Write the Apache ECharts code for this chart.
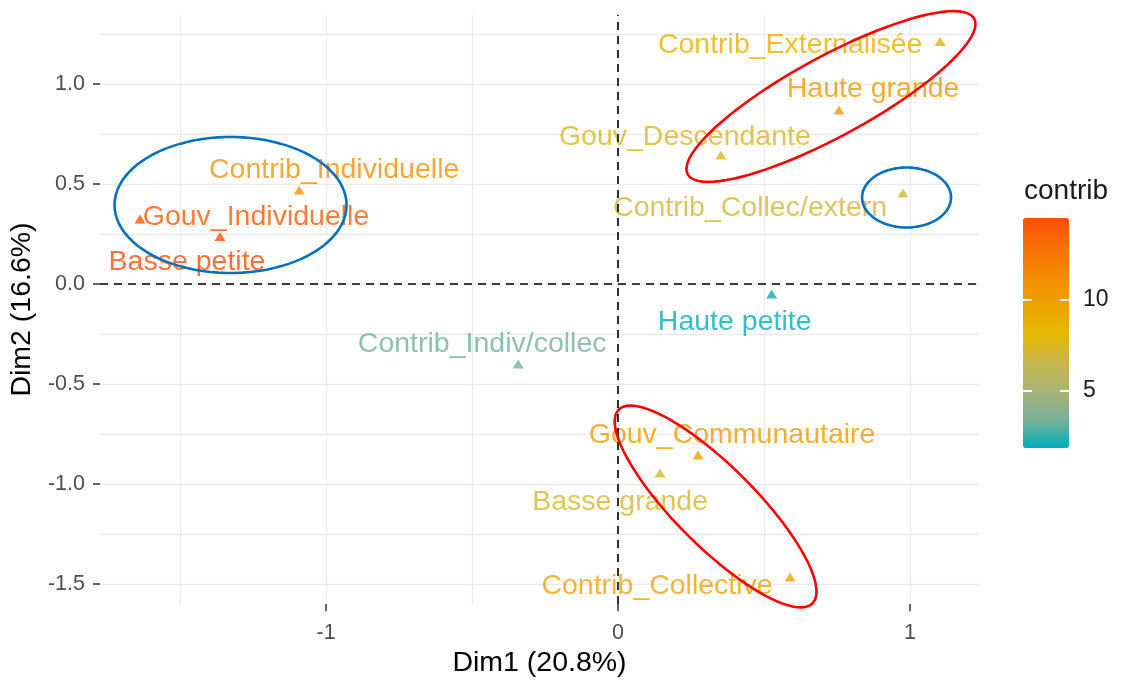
<!DOCTYPE html>
<html>
<head>
<meta charset="utf-8">
<title>ACM - contrib</title>
<script src="https://cdn.jsdelivr.net/npm/echarts@6.0.0/dist/echarts.min.js"></script>
<style>
  html, body { margin: 0; padding: 0; background: #fff; }
  #chartMca { width: 1122px; height: 686px; }
</style>
</head>
<body>
<div id="chartMca"></div>
<script>
    // modalités : coordonnées sur Dim1 / Dim2 et contribution
    var catNames = ["Contrib_Externalisée", "Haute grande", "Gouv_Descendante", "Contrib_Collec/extern",
                    "Haute petite", "Contrib_Individuelle", "Gouv_Individuelle", "Basse petite",
                    "Contrib_Indiv/collec", "Gouv_Communautaire", "Basse grande", "Contrib_Collective"];
    var dim1    = [1.103, 0.757, 0.352, 0.976, 0.526, -1.092, -1.637, -1.363, -0.342, 0.274, 0.144, 0.589];
    var dim2    = [1.212, 0.870, 0.645, 0.455, -0.050, 0.470, 0.325, 0.237, -0.400, -0.855, -0.945, -1.465];
    var contrib = [8.9, 10.4, 7.5, 7.1, 1.85, 10.9, 13.9, 14.49, 3.3, 10.2, 7.3, 9.5];

    var xMajorTicks = [-1, 0, 1];
    var xMinorTicks = [-1.5, -0.5, 0.5];
    var yMajorTicks = [-1.5, -1, -0.5, 0, 0.5, 1];
    var yMinorTicks = [-1.25, -0.75, -0.25, 0.25, 0.75, 1.25];
    var contribTicks = [5, 10];
    var contribRange = [1.85, 14.49];

    // place des étiquettes (comme ggrepel), en px par rapport au point
    var labelShift = {
      "Contrib_Externalisée": [-150, 4],
      "Haute grande": [34, -21],
      "Gouv_Descendante": [-36, -18],
      "Contrib_Collec/extern": [-153, 15],
      "Haute petite": [-37, 28],
      "Contrib_Individuelle": [35, -20],
      "Gouv_Individuelle": [116, -2],
      "Basse petite": [-33, 26],
      "Contrib_Indiv/collec": [-36, -20],
      "Gouv_Communautaire": [34, -20],
      "Basse grande": [-40, 29],
      "Contrib_Collective": [-133, 9]
    };

    // ellipses ajoutées à la main sur la figure
    var circles = [
      {x: 0.729, y: 0.9375, rx: 163, ry: 40, angle: -28.5, color: "#FF0000"},
      {x: 0.334, y: -1.1125, rx: 137, ry: 40, angle: 45, color: "#FF0000"},
      {x: -1.327, y: 0.395, rx: 116, ry: 68, angle: 0, color: "#0070C0"},
      {x: 0.988, y: 0.4325, rx: 44.5, ry: 30, angle: 0, color: "#0070C0"}
    ];

    var fontName = "Liberation Sans, Arial, sans-serif";
    var gradCols = ["#00AFBB", "#7AB198", "#A8B474", "#CAB64C", "#E7B800", "#EEA200", "#F48A02", "#F96F04", "#FC4E07"];

    var pointData = [];
    for (var i = 0; i < catNames.length; i++) {
      pointData.push({
        name: catNames[i],
        value: [dim1[i], dim2[i], contrib[i]],
        label: {offset: labelShift[catNames[i]]}
      });
    }

    var circleData = circles.map(function (c) { return [c.x, c.y, c.rx, c.ry, c.angle]; });

    function renderCircle(params, api) {
      var c = api.coord([api.value(0), api.value(1)]);
      var a = api.value(2), b = api.value(3);
      var rot = api.value(4) * Math.PI / 180;
      var pts = [];
      for (var k = 0; k < 90; k++) {
        var t = k / 90 * 2 * Math.PI;
        var ex = a * Math.cos(t), ey = b * Math.sin(t);
        pts.push([c[0] + ex * Math.cos(rot) - ey * Math.sin(rot), c[1] + ex * Math.sin(rot) + ey * Math.cos(rot)]);
      }
      return {
        type: 'polygon',
        shape: {points: pts},
        style: {fill: 'none', stroke: circles[params.dataIndex].color, lineWidth: 2.6}
      };
    }

    var tickLabelStyle = {fontFamily: fontName, fontSize: 21.5, color: '#4D4D4D'};
    var axisTitleStyle = {fontFamily: fontName, fontSize: 28.5, color: '#000'};
    var gridLine = {show: true, lineStyle: {color: '#EBEBEB', width: 1.3}};
    var darkTick = {show: true, length: 7, lineStyle: {color: '#333', width: 1.5}};
    var whiteTick = {show: true, inside: true, length: 9, customValues: contribTicks, lineStyle: {color: '#fff', width: 2}};
    var noLine = {show: false, onZero: false};

    var mcaOption = {
      animation: false,
      title: {
        text: 'contrib', left: 1024, top: 177, padding: 0,
        textStyle: {fontFamily: fontName, fontSize: 28, fontWeight: 'normal', color: '#1a1a1a'}
      },
      grid: [
        {left: 100, top: 15, width: 879, height: 589},
        {left: 1023, top: 218, width: 46, height: 230}   // barre de couleur
      ],
      xAxis: [
        {
          type: 'value', gridIndex: 0, min: -1.774, max: 1.236,
          name: 'Dim1 (20.8%)', nameLocation: 'middle', nameGap: 40, nameTextStyle: axisTitleStyle,
          axisLine: noLine,
          axisTick: Object.assign({customValues: xMajorTicks}, darkTick),
          axisLabel: Object.assign({customValues: xMajorTicks, margin: 18}, tickLabelStyle),
          splitLine: gridLine
        },
        {
          type: 'value', gridIndex: 0, position: 'top', min: -1.774, max: 1.236,
          axisLine: noLine, axisLabel: {show: false},
          axisTick: {show: false, customValues: xMinorTicks},
          splitLine: gridLine
        },
        {type: 'value', gridIndex: 1, min: 0, max: 1, show: false}
      ],
      yAxis: [
        {
          type: 'value', gridIndex: 0, min: -1.6, max: 1.345,
          name: 'Dim2 (16.6%)', nameLocation: 'middle', nameGap: 57, nameTextStyle: axisTitleStyle,
          axisLine: noLine,
          axisTick: Object.assign({customValues: yMajorTicks}, darkTick),
          axisLabel: Object.assign({
            customValues: yMajorTicks, margin: 15,
            formatter: function (v) { return v.toFixed(1); }
          }, tickLabelStyle),
          splitLine: gridLine
        },
        {
          type: 'value', gridIndex: 0, position: 'right', min: -1.6, max: 1.345,
          axisLine: noLine, axisLabel: {show: false},
          axisTick: {show: false, customValues: yMinorTicks},
          splitLine: gridLine
        },
        {
          type: 'value', gridIndex: 1, position: 'right', min: contribRange[0], max: contribRange[1], z: 10,
          axisLine: noLine, splitLine: {show: false},
          axisTick: whiteTick,
          axisLabel: {customValues: contribTicks, margin: 14, fontFamily: fontName, fontSize: 23, color: '#1a1a1a'}
        },
        {
          type: 'value', gridIndex: 1, position: 'left', min: contribRange[0], max: contribRange[1], z: 10,
          axisLine: noLine, splitLine: {show: false}, axisLabel: {show: false},
          axisTick: whiteTick
        }
      ],
      visualMap: {
        type: 'continuous', seriesIndex: 0, dimension: 2,
        min: contribRange[0], max: contribRange[1],
        orient: 'vertical', left: 1023, top: 218, itemWidth: 46, itemHeight: 230,
        padding: 0, calculable: false, hoverLink: false,
        inRange: {color: gradCols}
      },
      series: [
        {
          name: 'modalités',
          type: 'scatter',
          xAxisIndex: 0, yAxisIndex: 0,
          symbol: 'triangle', symbolSize: [11, 9],
          data: pointData,
          label: {
            show: true, position: 'inside', formatter: '{b}',
            color: 'inherit', fontFamily: fontName, fontSize: 28.5,
            align: 'center', verticalAlign: 'middle'
          },
          emphasis: {disabled: true},
          markLine: {
            silent: true, symbol: ['none', 'none'], label: {show: false},
            lineStyle: {color: '#000', type: [8, 6], width: 1.6},
            data: [{xAxis: 0}, {yAxis: 0}]
          },
          z: 3
        },
        {
          name: 'ellipses',
          type: 'custom',
          xAxisIndex: 0, yAxisIndex: 0,
          renderItem: renderCircle,
          data: circleData,
          silent: true,
          z: 5
        }
      ]
    };

    var myChart = echarts.init(document.getElementById("chartMca"));
    mcaOption && myChart.setOption(mcaOption, true);
</script>
</body>
</html>
